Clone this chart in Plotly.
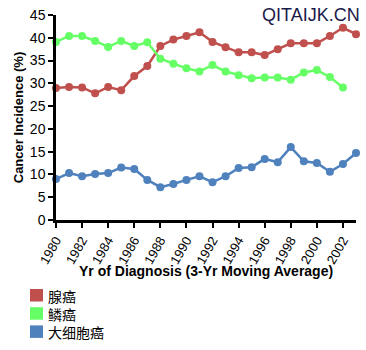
import plotly.graph_objects as go

years = list(range(1980, 2004))
adeno = [29.0, 29.2, 29.1, 27.8, 29.2, 28.5, 31.6, 33.8, 38.2, 39.6, 40.4, 41.2,
         39.1, 37.9, 36.8, 36.8, 36.2, 37.5, 38.8, 38.8, 38.8, 40.4, 42.2, 40.8]
squam_years = list(range(1980, 2003))
squam = [39.1, 40.4, 40.4, 39.3, 38.0, 39.3, 38.2, 39.0, 35.4, 34.3, 33.3, 32.6,
         34.0, 32.6, 31.8, 31.1, 31.3, 31.3, 30.8, 32.4, 32.9, 31.4, 29.1]
large = [9.0, 10.3, 9.6, 10.1, 10.3, 11.5, 11.2, 8.8, 7.2, 7.9, 8.8, 9.6,
         8.3, 9.6, 11.4, 11.6, 13.4, 12.7, 16.0, 12.9, 12.5, 10.6, 12.3, 14.7]
names = ["腺癌", "鳞癌", "大细胞癌"]
colors = ["#C0504D", "#66FF66", "#4F81BD"]
xtick_vals = list(range(1980, 2003, 2))
ytick_vals = list(range(0, 50, 5))
x_title = "Yr of Diagnosis (3-Yr Moving Average)"
y_title = "Cancer Incidence (%)"

series = [(years, adeno), (squam_years, squam), (years, large)]

fig = go.Figure()
for (xs, ys), n, c in zip(series, names, colors):
    fig.add_trace(go.Scatter(x=xs, y=ys, mode="lines+markers", name=n,
                             line=dict(color=c, width=2.5),
                             marker=dict(color=c, size=8),
                             showlegend=False, cliponaxis=False))

# plot-area geometry in pixels (for the hand-built legend)
L, R, T, B, W, H = 56, 10, 15, 130, 366, 350
pw, ph = W - L - R, H - T - B


def px2paper(px, py):
    return (px - L) / pw, (H - B - py) / ph


font = "Liberation Sans, Arial, sans-serif"
leg_font = 14
step = leg_font * 1.3
shapes, annotations = [], []
for i, c in enumerate(colors):
    top = 289 + i * step
    x0, y0 = px2paper(30, top)
    x1, y1 = px2paper(43, top + 12.5)
    shapes.append(dict(type="rect", xref="paper", yref="paper",
                       x0=x0, x1=x1, y0=y1, y1=y0, fillcolor=c,
                       line=dict(width=0)))
tx, ty = px2paper(47, 289 + step + 6.5)
annotations.append(dict(text="<br>".join(names), xref="paper", yref="paper",
                        x=tx, y=ty, xanchor="left", yanchor="middle",
                        align="left", showarrow=False, borderpad=0,
                        font=dict(size=leg_font, color="black",
                                  family="Noto Sans CJK SC, sans-serif")))
tx, ty = px2paper((L + W - R) / 2, 271)
annotations.append(dict(text="<b>" + x_title + "</b>", xref="paper",
                        yref="paper", x=tx, y=ty, xanchor="center",
                        yanchor="middle", showarrow=False,
                        font=dict(size=14, color="black", family=font)))
annotations.append(dict(text="QITAIJK.CN", xref="paper", yref="paper",
                        x=1.02, y=1.06, xanchor="right", yanchor="top",
                        showarrow=False,
                        font=dict(size=18, color="#1a1a4a", family=font)))

fig.update_layout(
    width=W, height=H,
    margin=dict(l=L, r=R, t=T, b=B, autoexpand=False),
    plot_bgcolor="white", paper_bgcolor="white",
    font=dict(family=font, color="black"),
    showlegend=False,
    xaxis=dict(range=[1980, 2003], tickvals=xtick_vals, tickangle=-60,
               showline=True, linecolor="black", linewidth=2.5,
               ticks="outside", tickwidth=2, ticklen=5, tickcolor="black",
               showgrid=False, zeroline=False, tickfont=dict(size=13),
               automargin=False),
    yaxis=dict(range=[0, 45], tickvals=ytick_vals,
               showline=True, linecolor="black", linewidth=2.5,
               ticks="outside", tickwidth=2, ticklen=5, tickcolor="black",
               showgrid=False, zeroline=False, tickfont=dict(size=14),
               automargin=False,
               title=dict(text="<b>" + y_title + "</b>",
                          font=dict(size=13), standoff=4)),
    shapes=shapes,
    annotations=annotations,
)
fig.write_html("out.html")
